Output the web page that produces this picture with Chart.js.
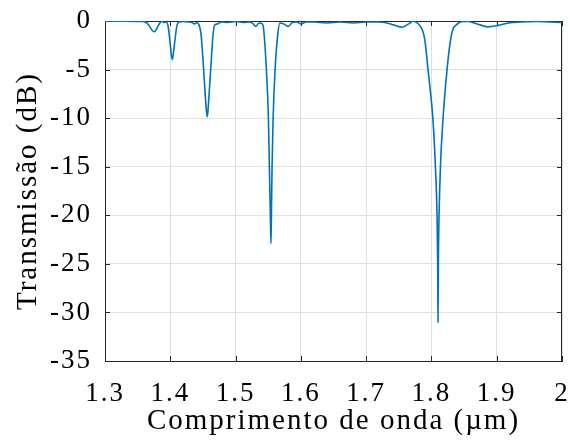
<!DOCTYPE html>
<html>
<head>
<meta charset="utf-8">
<script src="https://cdn.jsdelivr.net/npm/chart.js@4.4.1/dist/chart.umd.min.js"></script>
<style>
  html, body { margin: 0; padding: 0; background: #fff; }
  #wrap { width: 569px; height: 440px; }
</style>
</head>
<body>
<div id="wrap"><canvas id="transmissionChart"></canvas></div>
<script>
// wavelength (um) and transmission (dB)
const wavelength = [
  1.300, 1.330, 1.355, 1.363, 1.368, 1.372, 1.376, 1.380, 1.384, 1.387,
  1.390, 1.393, 1.3963, 1.398, 1.400, 1.4016, 1.4031, 1.4046, 1.4071, 1.4101,
  1.414, 1.420, 1.428, 1.433, 1.4373, 1.441, 1.4439, 1.447, 1.4511, 1.4535,
  1.4555, 1.4568, 1.4585, 1.4619, 1.4650, 1.468, 1.4726, 1.478, 1.488, 1.500,
  1.512, 1.522, 1.527, 1.531, 1.536, 1.5411, 1.5432, 1.5472, 1.5503, 1.5518,
  1.5533, 1.5542, 1.5549, 1.5559, 1.5575, 1.5605, 1.5648, 1.5678, 1.574, 1.5805,
  1.587, 1.593, 1.600, 1.608, 1.620, 1.640, 1.660, 1.680, 1.700, 1.720,
  1.732, 1.742, 1.7548, 1.765, 1.772, 1.777, 1.7825, 1.7866, 1.790, 1.7948,
  1.7985, 1.8022, 1.8061, 1.8086, 1.8096, 1.8101, 1.8106, 1.8117, 1.8138, 1.8178,
  1.8239, 1.8285, 1.8322, 1.840, 1.8488, 1.8556, 1.870, 1.8863, 1.902, 1.918,
  1.937, 1.960, 1.980, 2.000
];
const transmission = [
  -0.02, -0.02, -0.05, -0.15, -0.5, -0.95, -1.1, -0.7, -0.2, -0.05,
  -0.15, -0.1, -0.4, -1.2, -2.4, -3.5, -3.95, -3.4, -2.0, -0.5,
  -0.1, -0.05, -0.1, -0.15, -0.3, -0.15, -0.4, -1.3, -5, -7.6,
  -9.3, -9.85, -8.5, -5, -1.8, -0.4, -0.3, -0.1, -0.15, -0.05,
  -0.15, -0.1, -0.3, -0.55, -0.2, -0.3, -1.0, -5, -10, -15,
  -20, -22.9, -20, -15, -10, -5, -1.3, -0.2, -0.3, -0.55,
  -0.15, -0.1, -0.3, -0.1, -0.1, -0.2, -0.1, -0.2, -0.1, -0.1,
  -0.2, -0.4, -0.65, -0.3, -0.02, -0.15, -0.5, -1.0, -2.0, -5,
  -7.3, -10, -15, -20, -25, -31, -25, -20, -15, -10,
  -5, -2.3, -1.0, -0.3, -0.05, -0.05, -0.3, -0.6, -0.45, -0.2,
  -0.1, -0.05, -0.1, -0.15
];
const xTicks = [1.3, 1.4, 1.5, 1.6, 1.7, 1.8, 1.9, 2];
const yTicks = [-35, -30, -25, -20, -15, -10, -5, 0];

const axisColor = '#262626';
const gridColor = '#dfdfdf';
const tickFont = { family: 'Liberation Serif', size: 27 };
const titleFont = { family: 'Liberation Serif', size: 29 };

// matlab style box: top/right edges and ticks pointing inwards
const boxFrame = {
  id: 'boxFrame',
  beforeLayout(chart) { chart.ctx.letterSpacing = '2px'; },
  beforeDraw(chart) { chart.ctx.letterSpacing = '2px'; },
  beforeDatasetsDraw(chart) {
    const { ctx, chartArea: a, scales: { x, y } } = chart;
    ctx.save();
    ctx.strokeStyle = axisColor;
    ctx.lineWidth = 1;
    ctx.beginPath();
    ctx.moveTo(a.left, a.top + 0.5);
    ctx.lineTo(a.right, a.top + 0.5);
    ctx.moveTo(a.right - 0.5, a.top);
    ctx.lineTo(a.right - 0.5, a.bottom);
    xTicks.forEach(v => {
      const px = Math.round(x.getPixelForValue(v)) + 0.5;
      ctx.moveTo(px, a.bottom);
      ctx.lineTo(px, a.bottom - 5);
      ctx.moveTo(px, a.top);
      ctx.lineTo(px, a.top + 5);
    });
    yTicks.forEach(v => {
      const py = Math.round(y.getPixelForValue(v)) + 0.5;
      ctx.moveTo(a.left, py);
      ctx.lineTo(a.left + 5, py);
      ctx.moveTo(a.right, py);
      ctx.lineTo(a.right - 5, py);
    });
    ctx.stroke();
    ctx.restore();
  }
};

function noPad(s) {
  s.paddingTop = 0;
  s.paddingBottom = 0;
  s.paddingLeft = 0;
  s.paddingRight = 0;
}

new Chart(document.getElementById('transmissionChart'), {
  type: 'line',
  data: {
    datasets: [{
      data: wavelength.map((w, i) => ({ x: w, y: transmission[i] })),
      borderColor: '#0072BD',
      borderWidth: 1.6,
      pointRadius: 0,
      cubicInterpolationMode: 'monotone',
      fill: false
    }]
  },
  options: {
    responsive: true,
    maintainAspectRatio: false,
    animation: false,
    layout: { padding: { top: 21, right: 7, left: 0, bottom: 0 } },
    plugins: {
      legend: { display: false },
      tooltip: { enabled: false }
    },
    scales: {
      x: {
        type: 'linear',
        min: 1.3,
        max: 2,
        afterBuildTicks: s => { s.ticks = xTicks.map(v => ({ value: v })); },
        afterFit: s => { s.height = 79; noPad(s); },
        ticks: { color: '#000', padding: 17, font: tickFont, maxRotation: 0, autoSkip: false, callback: v => String(v) },
        grid: { color: gridColor, drawTicks: false },
        border: { color: axisColor, width: 1 },
        title: {
          display: true,
          text: 'Comprimento de onda (µm)',
          color: '#000',
          font: titleFont,
          padding: { top: 0, bottom: 1 }
        }
      },
      y: {
        min: -35,
        max: 0,
        afterBuildTicks: s => { s.ticks = yTicks.map(v => ({ value: v })); },
        afterFit: s => { s.width = 105; noPad(s); },
        ticks: { color: '#000', padding: 13, font: tickFont, autoSkip: false, callback: v => String(v) },
        grid: { color: gridColor, drawTicks: false },
        border: { color: axisColor, width: 1 },
        title: {
          display: true,
          text: 'Transmissão (dB)',
          color: '#000',
          font: titleFont,
          padding: { top: 11, bottom: 0 }
        }
      }
    }
  },
  plugins: [boxFrame]
});
</script>
</body>
</html>
